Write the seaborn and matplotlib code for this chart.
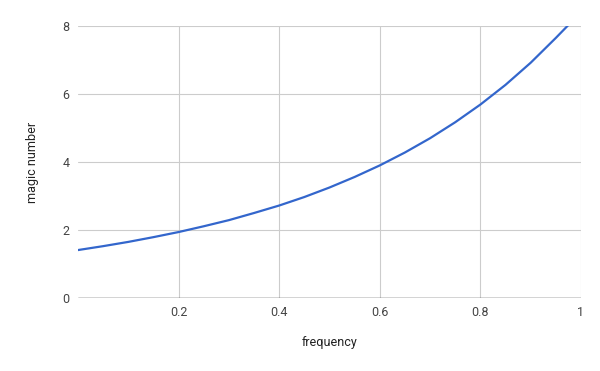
import matplotlib
matplotlib.use("Agg")
import matplotlib.pyplot as plt
import seaborn as sns
import pandas as pd

frequency = [0.0, 0.05, 0.1, 0.15, 0.2, 0.25, 0.3, 0.35, 0.4, 0.45, 0.5,
             0.55, 0.6, 0.65, 0.7, 0.75, 0.8, 0.85, 0.9, 0.95, 0.975]
magic_number = [1.41, 1.525, 1.65, 1.79, 1.94, 2.11, 2.29, 2.50, 2.72, 2.97, 3.25,
                3.56, 3.90, 4.28, 4.70, 5.17, 5.69, 6.27, 6.92, 7.65, 8.03]
x_ticks = [0.2, 0.4, 0.6, 0.8, 1.0]
x_tick_labels = ["0.2", "0.4", "0.6", "0.8", "1"]
y_ticks = [0, 2, 4, 6, 8]
y_tick_labels = ["0", "2", "4", "6", "8"]

df = pd.DataFrame({"frequency": frequency, "magic number": magic_number})

sns.set_theme(style="white")
plt.rcParams["font.family"] = ["Roboto", "DejaVu Sans"]

fig = plt.figure(figsize=(6, 3.71), dpi=100)
ax = fig.add_axes([78 / 600, 1 - 298 / 371, (581 - 78) / 600, (298 - 26) / 371])

sns.lineplot(data=df, x="frequency", y="magic number", ax=ax,
             color="#3366CC", linewidth=1.6, zorder=3)

ax.set_xlim(0, 1)
ax.set_ylim(0, 8)
ax.set_xticks(x_ticks)
ax.set_xticklabels(x_tick_labels)
ax.set_yticks(y_ticks)
ax.set_yticklabels(y_tick_labels)
ax.grid(True, color="#cccccc", linewidth=0.8)
ax.axhline(0, color="#333333", linewidth=1.0, zorder=4)
for s in ax.spines.values():
    s.set_visible(False)
ax.tick_params(axis="both", length=0, labelsize=9, colors="#444444")
ax.tick_params(axis="x", pad=6)
ax.tick_params(axis="y", pad=6)
ax.set_xlabel("frequency", fontsize=9, color="#222222", labelpad=12)
ax.set_ylabel("magic number", fontsize=9, color="#222222", labelpad=17)

fig.savefig("out.png", dpi=100)
